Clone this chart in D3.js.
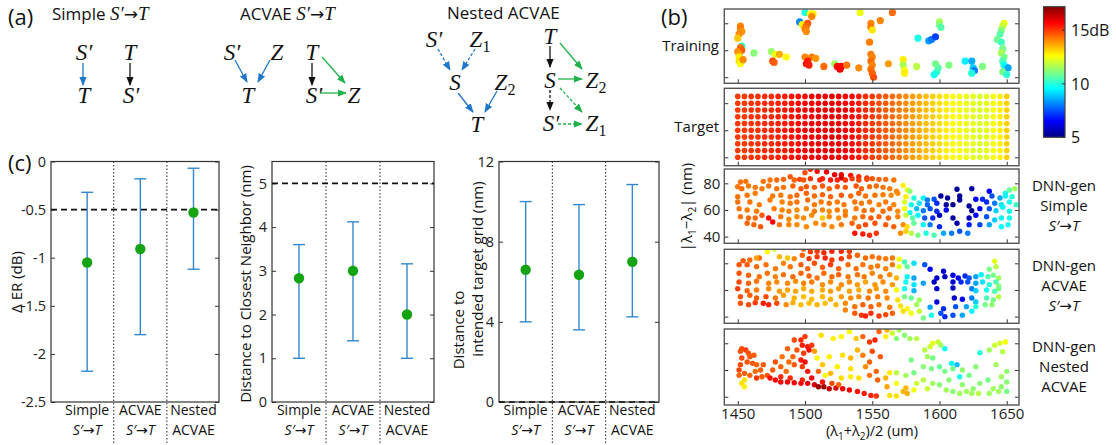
<!DOCTYPE html>
<html><head><meta charset="utf-8">
<script src="https://cdn.jsdelivr.net/npm/d3@7/dist/d3.min.js"></script>
<style>html,body{margin:0;padding:0;background:#fff;overflow:hidden}</style>
</head><body>
<svg id="chart" width="1116" height="445" xmlns="http://www.w3.org/2000/svg"></svg>
<script>
// ================= DATA =================
const methodTop = ["Simple", "ACVAE", "Nested"];
const methodBottom = ["S′→T", "S′→T", "ACVAE"];
const methodPos = [1, 2, 3];

const erMean = [-1.05, -0.91, -0.53];
const erLow  = [-2.18, -1.80, -1.12];
const erHigh = [-0.32, -0.18, -0.07];
const erThreshold = -0.5;
const erTicks = [0, -0.5, -1, -1.5, -2, -2.5];

const cnMean = [2.83, 3.0, 2.0];
const cnLow  = [1.0, 1.4, 1.0];
const cnHigh = [3.6, 4.12, 3.16];
const cnThreshold = 5;
const cnTicks = [0, 1, 2, 3, 4, 5];

const tgMean = [6.6, 6.35, 7.0];
const tgLow  = [4.0, 3.6, 4.25];
const tgHigh = [10.0, 9.85, 10.85];
const tgThreshold = 0;
const tgTicks = [0, 4, 8, 12];

const wlTicks = [1450, 1500, 1550, 1600, 1650];
const gapTicks = [40, 60, 80];
const cbTicks = [5, 10, 15];
const cbLabels = ["5", "10", "15dB"];

const targetWl = [1450,1455,1460,1465,1470,1475,1480,1485,1490,1495,1500,1505,1510,1515,1520,1525,1530,1535,1540,1545,1550,1555,1560,1565,1570,1575,1580,1585,1590,1595,1600,1605,1610,1615,1620,1625,1630,1635,1640,1645,1650];
const targetGap = [40,45,50,55,60,65,70,75,80,85];
const targetDB = [15.0,15.0,15.1,15.1,15.2,15.2,15.3,15.4,15.5,15.6,15.7,15.8,15.9,15.9,16.0,15.9,15.8,15.6,15.4,15.2,15.0,14.8,14.6,14.4,14.2,14.0,13.8,13.6,13.4,13.2,13.0,12.8,12.6,12.5,12.4,12.3,12.2,12.3,12.5,12.8,13.2];

// [wavelength centre, |l1-l2|, dB]
const trainingPts = [
[1452,78,14.1],[1452,76,14.2],[1453,74,13.9],[1451,72,14],[1450,69,13.3],
[1453,63,10.2],[1452,62,14.3],[1453,60,14.6],[1450,59,14],[1451,57,13.8],
[1451,55,12.8],[1451,52,13],[1452,50,12.6],[1454,53,14],
[1462,58,11.2],
[1475,59,11.4],[1478,57,12.4],[1481,57,13.6],[1476,52,14.9],[1477,51,14.6],[1486,55,12.7],
[1500,88,10],[1504,87,12.6],[1506,87,12.8],[1505,85,14.1],[1496,81,8.2],[1498,79,12.8],[1502,80,14.7],[1501,78,14.5],[1500,76,14.2],[1501,74,14],
[1500,55,14.1],[1505,55,14.2],[1508,54,13.9],[1502,52,15.3],[1501,50,15.5],[1503,49,15.3],
[1514,48,14.4],[1522,50,11.5],[1524,48,15.6],[1526,46,15.9],[1527,48,15.7],[1531,49,14.3],
[1541,88,12.4],[1540,47,14],
[1549,80,14.1],[1549,77,14.2],[1550,75,12.9],[1548,66,14.2],
[1549,57,14.2],[1550,55,14.1],[1549,52,14.4],[1550,49,14.1],[1549,46,14.3],[1550,43,14.5],[1551,40,14.7],
[1556,82,14.1],[1565,88,14.4],
[1562,50,13.8],[1573,53,12.8],[1573,49,11.6],[1574,45,12.6],[1574,43,12.8],
[1583,48,11.8],[1584,69,9.9],
[1592,67,8.4],[1594,68,8],[1597,70,7.3],
[1600,81,11.6],[1600,79,11.2],[1601,77,10.6],
[1597,50,11],[1599,47,10.7],[1598,44,10.3],[1596,42,9.8],[1607,49,11.1],
[1619,52,9.4],[1624,52,8.6],[1625,47,9],[1626,45,8],[1624,43,10],[1632,48,11.1],
[1648,80,12.4],[1647,78,12],[1646,75,11.2],[1645,72,10.6],[1643,68,10.9],[1646,66,10.4],
[1647,61,11],[1646,58,11.6],[1648,55,11],[1647,52,10.5],[1648,49,9.6],[1651,47,8.5],[1647,44,11],[1650,42,10.1]
];

const simplePts = [
[1504,90.5,15.2],[1509,89,15.6],[1500,88,14.8],[1516,88.5,15.9],[1522,86.5,16],[1527,86.5,15.9],[1527,84,16.1],[1534,86,15.5],[1540,85,15.2],[1546,84,15],
[1452,81,14.3],[1456,81.5,14.3],[1469,81.5,14.3],[1474,82.5,14.3],[1479,82.5,14.4],[1484,83,14.5],[1489,85,14.6],[1492,82.5,14.5],[1496,83,14.8],[1499,82.5,14.7],[1504,83.5,15],[1511,82.5,15.2],[1513,83.5,15.3],[1519,82.5,15.4],[1524,82.5,15.3],[1530,82.5,15.1],[1535,83.5,15],[1540,82.5,14.9],[1546,83,14.8],[1550,83.5,14.7],[1555,83,14.5],[1560,83,14.4],[1566,82.5,14.3],[1573,78.5,12.8],
[1450,77.5,14.3],[1453,76,14.4],[1458,78,14.2],[1463,77,14.2],[1468,76,14.2],[1473,78,14.3],[1479,76,14.3],[1484,77,14.3],[1491,78,14.5],[1497,76,14.6],[1501,77.5,14.6],[1507,77,14.5],[1513,78,14.6],[1518,76,14.5],[1524,77.5,14.7],[1530,77,14.6],[1538,78,14.7],[1542,76,14.5],[1548,77.5,14.4],[1553,78,14.4],[1558,77,14.3],[1563,76,14.2],[1568,74,14],[1576,75,12.3],[1578,74,11.3],
[1613,75.5,5.3],[1624,76,5.5],[1637,74,6.5],[1649,72.5,9.8],[1652,75,10.8],[1656,76,11.5],
[1450,70,14.3],[1457,71,14.3],[1463,72.5,14.2],[1476,70.5,14.2],[1482,71,14.2],[1489,70,14.3],[1494,71,14.4],[1501,72.5,14.5],[1507,70.5,14.4],[1513,71.5,14.5],[1519,70,14.5],[1527,71,14.6],[1534,70.5,14.4],[1540,72.5,14.5],[1545,70.5,14.3],[1552,71,14.3],[1558,71.5,14.2],[1564,71,14],[1569,72.5,14],[1575,70,12.8],[1581,69,10],[1588,69,9.5],[1591,67.5,8],[1596,68,7.5],[1601,70.5,5.3],[1606,69,5.4],[1615,70.5,5.2],[1615,67.5,5.5],[1627,68,6.5],[1632,68,7],[1639,70.5,7.5],[1645,69,8.5],[1649,70.5,9.5],[1654,70,10],
[1450,66,14.3],[1459,66,14.3],[1466,64,14.2],[1474,67.5,14.2],[1483,66,14.1],[1489,65,14.2],[1494,66,14.3],[1502,67.5,14.3],[1507,64,14.2],[1512,66,14.2],[1518,65,14.3],[1524,66,14.2],[1529,64,14.2],[1537,66,14.3],[1542,65,14.2],[1548,66,14.2],[1555,64,14.1],[1560,66,14.2],[1566,64,14.1],[1574,66,12.2],[1579,64,9.7],[1585,65,9.3],[1591,64,7.8],[1598,65,7],[1605,64,5.3],[1610,64,5.2],[1622,63,5.3],[1635,66,7],[1641,65,8],[1646,64,9.2],[1652,66,9.8],[1657,64,10.2],
[1451,61,14.3],[1457,60,14.2],[1464,59,14.2],[1477,61,14.2],[1483,60,14.1],[1488,59,14.1],[1494,60,14],[1501,61,14.1],[1507,59,14.2],[1513,60,14.1],[1518,59,14],[1524,60,14.2],[1530,59,14.1],[1538,61,14.2],[1544,59.5,14.3],[1550,60,14.3],[1558,59,14.4],[1563,61,14.4],[1569,59,14],[1574,61,12.5],[1578,58,9.6],[1583,61,8.8],[1588,59.5,8],[1593,61,7.5],[1598,59,7],[1605,60,6.5],[1624,59.5,5.3],[1630,61,6.5],[1637,61,7.5],[1642,59.5,9],[1647,62,9.5],[1652,59,9.8],
[1452,55,14.3],[1458,54,14.4],[1463,54,14.4],[1468,56,14.6],[1473,54,15.6],[1482,55,14.2],[1488,53,14],[1494,55,14],[1499,54,14],[1505,56,14],[1513,54,13.3],[1518,55,14],[1525,54,14],[1530,56,14.2],[1537,54,14.2],[1543,55,14.4],[1549,54,14.6],[1555,55,14.5],[1562,54,14.5],[1569,55,14.1],[1575,56,12],[1580,54,10.6],[1584,56,9.5],[1589,54,7.6],[1595,54,7],[1600,56,5.8],[1610,54,5.4],[1622,54,5.6],[1627,56,6.5],[1635,55,7.5],[1641,52.5,9],[1646,54,9.5],[1652,54,9.8],
[1457,50,14.5],[1462,49,14.5],[1467,47.5,14.6],[1476,51,15.8],[1481,49,14.3],[1488,49,14.1],[1494,49,14],[1501,47.5,14],[1508,50,14],[1514,49,14.1],[1520,47.5,14],[1527,49,14.2],[1535,50,14.5],[1540,47.5,14.6],[1545,49,14.8],[1552,50,14.7],[1560,49,14.6],[1566,47.5,14.5],[1573,49,14],[1576,47.5,13],[1581,50,10.8],[1588,49,9.5],[1593,49,8],[1600,47.5,7],[1613,50,5.5],[1622,49,6.8],[1630,49,7.3],[1637,49,8.5],[1646,47.5,9.6],[1651,49,9.8],
[1537,42.5,15.5],[1543,42,15.4],[1548,41,15.2],[1553,42.5,15],[1571,42.5,14],[1575,44,13.2],[1579,42.5,11.8],[1584,41,11],[1590,42.5,10],[1596,41,10.5],[1603,42.5,8.5],[1609,42.5,8],[1615,44,7.5],[1621,42.5,8]
];

const acvaePts = [
[1472,88.75,12.7],[1477,90.75,12],[1499,90.75,14.5],[1504,88.75,15],[1509,89,15],[1514,88,15.2],[1520,89,15.3],[1527,89,15.2],[1533,89,15],
[1454,82,14.6],[1459,82.5,14.4],[1466,84,14.5],[1464,84,13.8],[1481,85,13.5],[1487,84,13.3],[1492,83.5,14],[1498,86,14.5],[1503,83.5,15],[1509,85,15],[1515,84,15.2],[1520,82.5,15],[1527,83.5,15],[1533,85,14.8],[1539,86,14.5],[1545,84,14.4],[1550,85,14.3],[1555,84,14.3],[1560,83.5,14.2],[1565,84,14.2],[1570,83,12.5],[1574,81,10.5],
[1451,79,14.7],[1457,79,14.6],[1464,77.5,14.4],[1471,79,14.3],[1478,76,14.2],[1484,80,14.1],[1489,77.5,14.3],[1497,79,14.6],[1502,76,14.5],[1507,80,14.7],[1513,77,14.6],[1519,79,15],[1525,76,14.5],[1532,79,14.4],[1538,76,14.3],[1543,79,14.3],[1549,77,14.2],[1554,78,14.2],[1560,76,14.1],[1565,79,14.2],[1570,77.5,12.3],[1576,77.5,10.8],[1581,80,9.2],[1589,79,7.5],[1593,75.5,6.5],[1603,74,6],
[1641,81.5,12.3],[1642,77.5,11.8],[1637,75.5,11],
[1451,72.5,14.7],[1458,71,14.5],[1466,70,14.3],[1472,72.5,14.3],[1478,70,14.1],[1484,71.5,14.3],[1491,70,14.4],[1497,72.5,14.5],[1503,70.5,14.5],[1509,69,14.3],[1514,72.5,14.4],[1520,70,14.4],[1525,71.5,14.5],[1532,70,14.2],[1539,71.5,14.3],[1544,70,14.2],[1550,72.5,14.1],[1556,70,14.1],[1563,71.5,14],[1568,69,13.5],[1576,70,9.5],[1581,69,8.5],[1598,69,6],[1604,70,5.8],[1610,71,6.3],[1614,69,6.5],[1619,70.5,7],[1622,69,7.5],[1627,70,8.5],[1631,71.5,9.5],[1636,70,10.5],[1640,71,11],[1644,69,11.5],
[1451,66,14.8],[1458,65,14.5],[1464,66.5,14.3],[1473,65,14.1],[1479,66,14],[1487,65,14],[1493,66.5,14],[1499,65,14.1],[1505,66,14.2],[1513,64,14],[1519,66,14],[1527,64,14],[1533,66,14],[1539,64,13.8],[1545,66,13.7],[1552,64,13.9],[1558,66,14],[1565,64,13.8],[1575,66,9.7],[1581,64,9.3],[1588,65,8.5],[1596,66,5.8],[1610,66,6],[1616,66,7],[1621,66,7.5],[1627,65,8.5],[1632,66,9.3],[1637,64,10],[1642,66,10.5],[1644,63,11.2],
[1450,61,14.9],[1457,59.5,14.5],[1464,60,14.2],[1473,61,14],[1481,59,13.8],[1487,60,13.7],[1493,59,13.7],[1499,61,13.6],[1505,59,13.6],[1513,60,13.6],[1519,59,13.8],[1525,61,13.8],[1533,59,13.7],[1540,60,13.6],[1548,59,14],[1553,61,13.8],[1560,59,14],[1568,60,12.5],[1574,61,9.7],[1581,59.5,8.7],[1598,61,6],[1610,61.5,5.8],[1624,61,8],[1627,59.5,9],[1635,60,9.8],[1641,59,10.5],[1644,61,11],
[1452,55,14.7],[1459,56,14.5],[1464,54,14.6],[1471,55,14.8],[1478,54,14.2],[1484,56,13.8],[1492,54,13.5],[1499,55,13.4],[1505,53,13.4],[1513,55,13.5],[1519,53,13.6],[1527,55,13.8],[1534,54,14],[1540,55,14],[1547,54,14.3],[1554,55,14.2],[1561,54,14],[1569,52.5,13],[1574,55,11],[1579,54,10.8],[1585,52.5,11.5],[1598,51,6.2],[1611,54,5.8],[1617,53,6.5],[1624,54,8],[1627,51,9],[1635,54,10.5],[1640,52.5,11],[1644,55,11.8],
[1452,50,14.7],[1458,49,14.8],[1463,50.5,15],[1469,50,15.4],[1473,49,15.3],[1479,50,14.8],[1486,49,14],[1491,50.5,13.6],[1497,49,13.4],[1503,50,13.4],[1509,49,13.5],[1515,50,13.4],[1523,49,13.5],[1530,50,14],[1537,47.5,14.3],[1543,49,14.5],[1549,47.5,14.5],[1555,49,14.3],[1563,47,14.2],[1571,48,13],[1576,46,12.5],[1583,49,11.5],[1593,47,8.5],[1603,46,7],[1612,47.5,7.5],[1620,47.5,8.5],[1627,47.5,10],[1634,49,11],[1639,49,11.3],
[1530,45,14.1],[1537,42.5,14.6],[1542,41,15],[1545,40.5,15.3],[1549,42.5,15.1],[1555,40.5,15],[1560,41.5,14.8],[1565,42.5,14.5],[1573,44,13],[1579,42.5,12.5],[1585,44,12],[1588,39,11],[1594,41,9.8],[1601,42.5,7.5],[1604,40,7],[1610,41,7.5],[1617,41,8.5],[1624,44,9.5]
];

const nestedPts = [
[1453,76,14.8],[1456,75,14.9],[1452,74,14.7],[1458,72.5,14.7],[1462,71,14.6],[1459,70,14.6],[1453,69,14.8],[1457,66,14.7],[1452,64,14.8],[1461,65,14.6],[1464,64,14.5],[1451,60,14.9],[1455,57.5,14.6],[1451,56,14.5],[1455,52.5,13],[1453,50,13],[1455,47.5,12.8],[1459,56,14.5],[1463,59,14.4],[1467,60,14.5],[1469,64,14.6],[1472,56,14.7],[1468,55,14.6],[1464,54,15],
[1474,54,15.5],[1478,52.5,15.6],[1482,51,15.7],[1487,51,15.8],[1492,50.5,15.8],[1497,50,15.8],[1502,50,16],[1507,49,16.2],[1510,47.5,16.8],[1514,47.5,16.8],[1518,46,16.5],[1523,46.5,16.2],[1528,46,15.8],[1533,45,15.7],[1539,44,15.5],[1544,42.5,15.4],[1549,41,15.3],[1553,40.5,15],[1482,55,15.2],[1489,54,15.2],[1498,52.5,15.3],[1505,54,15.6],[1513,51,15.5],[1520,50,14.8],[1525,49,14.5],
[1492,82.5,14.8],[1497,82.5,15.2],[1500,85,15],[1498,78.5,15.3],[1502,77.5,15.4],[1503,75,15.5],[1499,72.5,15],[1494,75,14.7],[1491,70,14.5],[1497,67.5,15.4],[1500,66,15.7],[1492,64,14.6],[1498,62.5,15],[1502,59,15.5],[1505,78.5,15],[1509,69,12.7],[1507,74,13.8],[1478,66,14.7],[1482,62.5,14.5],[1486,59,14.4],[1476,60,14.6],[1483,70,14.3],[1488,66,14.4],[1487,76,14.5],
[1512,86,13],[1521,83.5,12.8],[1527,85,12.7],[1533,88.75,12.5],[1538,83.5,13.3],[1543,85,14.5],[1548,81,15],[1552,82.5,15.3],[1555,88.75,14.5],[1561,90,13.5],[1560,85,12.8],[1565,87.5,12],[1570,90,11.5],[1568,83.5,11.2],[1574,86,11.2],[1578,83.5,11.5],[1583,83.5,11.8],[1518,70,12.8],[1524,62.5,12.8],[1528,71,13],[1534,69,13.5],[1534,61,13],[1539,75,13.5],[1543,71,14.2],[1548,66,14.5],[1550,74,14.8],[1556,70,14.6],[1553,59,14.5],[1548,56,14.3],[1545,62.5,14],[1540,54,13],[1554,52.5,14.5],[1560,54,13.5],[1561,47.5,13.7],[1563,41,13],[1568,40.5,13],[1573,44,13.5],[1575,46.5,13.5],[1576,42.5,13.6],[1568,50,12.5],[1563,58,12.8],[1519,57.5,13.5],[1527,54,13],[1534,55,12.8],[1513,64,13.3],[1515,56,12.5],[1510,59,14.5],
[1579,67.5,11],[1568,58,11.8],[1575,56,11.5],[1581,58,11],[1589,75,11.8],[1593,77.5,12],[1595,80,12.3],[1599,81,12],[1601,78.5,11.5],[1604,76,9.7],[1591,70,11.5],[1595,69,11],[1588,62.5,11.2],[1594,61,11],[1600,62.5,10.8],[1604,59,11],[1609,65,9.5],[1613,64,8.8],[1615,55,9.8],[1610,61,11],[1617,60,11.3],[1622,56,11],[1630,73,10],[1627,62.5,11.2],[1637,75,11.5],[1641,78.5,12],[1645,80,12.2],[1649,81,12.5],[1647,73.75,11.8],[1642,64,11.5],[1650,59,11.3],[1646,55,11.5],[1650,51,11.2],[1646,47.5,11.3],[1650,44,11],[1644,44,11.5],[1640,46,11.5],[1636,52.5,11],[1630,50,11.2],[1625,46,11.3],[1620,44,11.5],[1615,42.5,11.5],[1610,44,11.2],[1605,45,11.5],[1600,49,11.2],[1595,50,11.5],[1591,46,12],[1588,52.5,11.8],[1583,50,12],[1581,45,12.5],[1624,42.5,11.5],[1629,42.5,11.8],[1637,42.5,11.5],[1617,49,11.3],[1607,52.5,11.2]
];

// ================= HELPERS =================
const svg = d3.select("#chart");
const FONT = "'Open Sans', 'DejaVu Sans', sans-serif";
const SERIF = "'Liberation Serif', 'DejaVu Serif', serif";
const AX = "#333";
svg.attr("font-family", FONT);
const plainNum = d => String(d);

const cl = v => Math.max(0, Math.min(1, v));
function jet(t) {
  t = cl(t);
  const r = cl(1.5 - Math.abs(4 * t - 3)), g = cl(1.5 - Math.abs(4 * t - 2)), b = cl(1.5 - Math.abs(4 * t - 1));
  return d3.rgb(r * 255, g * 255, b * 255).formatHex();
}
const cbMin = 5, cbMax = 17.2;
const colorOf = d3.scaleSequential(jet).domain([cbMin, cbMax]);

const defs = svg.append("defs");
[["blue", "#1f77c8"], ["green", "#1fb24a"], ["black", "#111"]].forEach(([n, c]) => {
  defs.append("marker").attr("id", "ah-" + n).attr("viewBox", "0 0 10 10").attr("refX", 9).attr("refY", 5)
    .attr("markerWidth", 7).attr("markerHeight", 7).attr("orient", "auto-start-reverse")
    .append("path").attr("d", "M0,1 L10,5 L0,9 Z").attr("fill", c);
});
const arrowColors = { blue: "#1f77c8", green: "#1fb24a", black: "#111" };

// ================= PANEL (a) =================
function label(x, y, txt, size) {
  return svg.append("text").attr("x", x).attr("y", y).attr("font-size", size).attr("fill", "#111").text(txt);
}
label(8, 25, "(a)", 22);
label(661, 25, "(b)", 22);
label(8, 171, "(c)", 22);

function titleWithMath(x, y, plain) {
  const t = svg.append("text").attr("x", x).attr("y", y).attr("font-size", 17).attr("fill", "#111");
  t.append("tspan").text(plain);
  t.append("tspan").attr("font-family", SERIF).attr("font-style", "italic").attr("font-size", 19).text("S′");
  t.append("tspan").text("→");
  t.append("tspan").attr("font-family", SERIF).attr("font-style", "italic").attr("font-size", 19).text("T");
}
titleWithMath(52, 20, "Simple ");
titleWithMath(240, 20, "ACVAE ");
label(447, 19, "Nested ACVAE", 17);

function sym(x, y, main, sub) {
  const t = svg.append("text").attr("x", x).attr("y", y).attr("font-family", SERIF).attr("font-style", "italic")
    .attr("font-size", 23).attr("text-anchor", "middle").attr("fill", "#111");
  t.append("tspan").text(main);
  if (sub) t.append("tspan").attr("font-style", "normal").attr("font-size", 16).attr("dy", 5).text(sub);
}
function arrow(x1, y1, x2, y2, col, dashed) {
  svg.append("line").attr("x1", x1).attr("y1", y1).attr("x2", x2).attr("y2", y2)
    .attr("stroke", arrowColors[col]).attr("stroke-width", 1.3)
    .attr("stroke-dasharray", dashed ? "3,2" : null)
    .attr("marker-end", "url(#ah-" + col + ")");
}
sym(84, 60, "S′"); sym(130, 60, "T"); sym(84, 103, "T"); sym(131, 103, "S′");
arrow(83, 63, 83, 85, "blue"); arrow(130, 63, 130, 85, "black");
sym(232, 60, "S′"); sym(277, 60, "Z"); sym(248, 103, "T");
sym(312, 60, "T"); sym(314, 103, "S′"); sym(354, 103, "Z");
arrow(235, 60, 247, 82, "blue"); arrow(270, 60, 258, 82, "blue");
arrow(312, 63, 312, 85, "black"); arrow(322, 57, 345, 83, "green"); arrow(320, 93, 346, 93, "green");
sym(434, 47, "S′"); sym(480, 47, "Z", "1"); sym(455, 90, "S"); sym(505, 90, "Z", "2"); sym(477, 132, "T");
sym(550, 44, "T"); sym(550, 88, "S"); sym(551, 131, "S′"); sym(596, 88, "Z", "2"); sym(596, 131, "Z", "1");
arrow(438, 49, 450, 70, "blue", true); arrow(475, 49, 462, 70, "blue", true);
arrow(458, 93, 473, 112, "blue"); arrow(497, 91, 485, 112, "blue");
arrow(550, 46, 550, 67, "black"); arrow(550, 90, 550, 110, "black", true);
arrow(560, 43, 582, 69, "green"); arrow(558, 79, 582, 79, "green");
arrow(560, 88, 582, 112, "green", true); arrow(558, 124, 582, 124, "green", true);

// ================= PANEL (c) =================
function errPanel(cfg) {
  const x = d3.scaleLinear().domain(cfg.xdom).range([cfg.left, cfg.right]);
  const y = d3.scaleLinear().domain(cfg.ydom).range([cfg.bottom, cfg.top]);
  const g = svg.append("g");
  [1.5, 2.5].forEach(s => g.append("line").attr("x1", x(s)).attr("x2", x(s)).attr("y1", cfg.top).attr("y2", 443)
    .attr("stroke", "#222").attr("stroke-width", 1).attr("stroke-dasharray", "1.5,2"));
  const ax = g.append("g").attr("transform", `translate(${cfg.left},0)`)
    .call(d3.axisLeft(y).tickValues(cfg.ticks).tickSize(-4).tickPadding(5).tickFormat(plainNum));
  ax.select(".domain").remove();
  ax.selectAll("line").attr("stroke", AX);
  ax.selectAll("text").attr("font-size", 14.5).attr("font-family", FONT).attr("fill", "#222");
  const ax2 = g.append("g").attr("transform", `translate(${cfg.right},0)`)
    .call(d3.axisRight(y).tickValues(cfg.ticks).tickSize(-4).tickFormat(""));
  ax2.select(".domain").remove();
  ax2.selectAll("line").attr("stroke", AX);
  g.append("rect").attr("x", cfg.left).attr("y", cfg.top).attr("width", cfg.right - cfg.left).attr("height", cfg.bottom - cfg.top)
    .attr("fill", "none").attr("stroke", AX).attr("stroke-width", 1.2);
  g.append("line").attr("x1", cfg.left).attr("x2", cfg.right).attr("y1", y(cfg.thr)).attr("y2", y(cfg.thr))
    .attr("stroke", "#111").attr("stroke-width", 1.6).attr("stroke-dasharray", "6,4");
  methodPos.forEach((p, i) => {
    const cx = x(p);
    g.append("line").attr("x1", cx).attr("x2", cx).attr("y1", y(cfg.low[i])).attr("y2", y(cfg.high[i])).attr("stroke", "#3388d0").attr("stroke-width", 1.4);
    [cfg.low[i], cfg.high[i]].forEach(v => g.append("line").attr("x1", cx - 6).attr("x2", cx + 6).attr("y1", y(v)).attr("y2", y(v)).attr("stroke", "#3388d0").attr("stroke-width", 1.4));
    g.append("circle").attr("cx", cx).attr("cy", y(cfg.mean[i])).attr("r", 5.2).attr("fill", "#13a313");
    g.append("text").attr("x", cx).attr("y", 415).attr("text-anchor", "middle").attr("font-size", 14).attr("fill", "#111").text(methodTop[i]);
    const t = g.append("text").attr("x", cx).attr("y", 435).attr("text-anchor", "middle").attr("font-size", 14).attr("fill", "#111");
    if (methodBottom[i].includes("→")) {
      t.append("tspan").attr("font-style", "italic").text("S′");
      t.append("tspan").text("→");
      t.append("tspan").attr("font-style", "italic").text("T");
    } else t.text(methodBottom[i]);
  });
  return g;
}
errPanel({ left: 51, right: 219, top: 161.5, bottom: 402, xdom: [0.32, 3.48], ydom: [-2.5, 0], ticks: erTicks, mean: erMean, low: erLow, high: erHigh, thr: erThreshold });
errPanel({ left: 272, right: 434, top: 161.5, bottom: 402, xdom: [0.5, 3.5], ydom: [0, 5.5], ticks: cnTicks, mean: cnMean, low: cnLow, high: cnHigh, thr: cnThreshold });
errPanel({ left: 499, right: 659, top: 161.5, bottom: 402, xdom: [0.5, 3.5], ydom: [0, 12], ticks: tgTicks, mean: tgMean, low: tgLow, high: tgHigh, thr: tgThreshold });

function rotLabel(x, y, txt, anchor) {
  svg.append("text").attr("transform", `translate(${x},${y}) rotate(-90)`).attr("text-anchor", anchor || "middle")
    .attr("font-size", 15).attr("fill", "#111").text(txt);
}
rotLabel(22, 282, "Δ ER (dB)");
rotLabel(251, 284, "Distance to Closest Neighbor (nm)");
rotLabel(464, 330, "Distance to");
rotLabel(483, 269, "intended target grid (nm)");

// ================= PANEL (b) =================
const bx = d3.scaleLinear().domain([1440, 1659.1]).range([724.3, 1019]);
const panels = [
  { key: "train", pts: trainingPts, top: 9, bottom: 83.3, ymin: 35.5, ymax: 90.6, r: 3.6, label: ["Training"] },
  { key: "target", pts: null, top: 88.3, bottom: 165.7, ymin: 33.8, ymax: 91, r: 2.8, label: ["Target"] },
  { key: "simple", pts: simplePts, top: 169, bottom: 243.3, ymin: 35, ymax: 90.75, r: 2.7, right: ["DNN-gen", "Simple", "S′→T"], yl: true },
  { key: "acvae", pts: acvaePts, top: 249.3, bottom: 323.3, ymin: 35, ymax: 90.5, r: 2.7, right: ["DNN-gen", "ACVAE", "S′→T"] },
  { key: "nested", pts: nestedPts, top: 329, bottom: 405, ymin: 33.8, ymax: 90.7, r: 2.7, right: ["DNN-gen", "Nested", "ACVAE"], xl: true }
];
panels.forEach(p => {
  const y = d3.scaleLinear().domain([p.ymin, p.ymax]).range([p.bottom, p.top]);
  const g = svg.append("g");
  const clipId = "clip-" + p.key;
  defs.append("clipPath").attr("id", clipId).append("rect").attr("x", 724.3).attr("y", p.top).attr("width", 1019 - 724.3).attr("height", p.bottom - p.top);
  const dots = g.append("g").attr("clip-path", `url(#${clipId})`);
  let data = p.pts;
  if (!data) {
    data = [];
    targetWl.forEach((w, i) => targetGap.forEach(gp => data.push([w, gp, targetDB[i]])));
  }
  dots.selectAll("circle").data(data).join("circle")
    .attr("cx", d => bx(d[0])).attr("cy", d => y(d[1])).attr("r", p.r).attr("fill", d => colorOf(d[2]));
  const la = g.append("g").attr("transform", "translate(724.3,0)")
    .call(d3.axisLeft(y).tickValues(gapTicks).tickSize(-4).tickPadding(4).tickFormat(p.yl ? plainNum : ""));
  la.select(".domain").remove(); la.selectAll("line").attr("stroke", AX);
  la.selectAll("text").attr("font-size", 15).attr("font-family", FONT).attr("fill", "#222");
  const ra = g.append("g").attr("transform", "translate(1019,0)")
    .call(d3.axisRight(y).tickValues(gapTicks).tickSize(-4).tickFormat(""));
  ra.select(".domain").remove(); ra.selectAll("line").attr("stroke", AX);
  const ba = g.append("g").attr("transform", `translate(0,${p.bottom})`)
    .call(d3.axisBottom(bx).tickValues(wlTicks).tickSize(-4).tickPadding(3).tickFormat(p.xl ? plainNum : ""));
  ba.select(".domain").remove(); ba.selectAll("line").attr("stroke", AX);
  ba.selectAll("text").attr("font-size", 15).attr("font-family", FONT).attr("fill", "#222");
  g.append("rect").attr("x", 724.3).attr("y", p.top).attr("width", 1019 - 724.3).attr("height", p.bottom - p.top)
    .attr("fill", "none").attr("stroke", "#555").attr("stroke-width", 1.4);
  if (p.label) {
    svg.append("text").attr("x", 719).attr("y", (p.top + p.bottom) / 2 + 5).attr("text-anchor", "end")
      .attr("font-size", 15).attr("fill", "#111").text(p.label[0]);
  }
  if (p.right) {
    const cy = (p.top + p.bottom) / 2;
    p.right.forEach((s, k) => {
      const t = svg.append("text").attr("x", 1064).attr("y", cy + (k - 1) * 20 + 5).attr("text-anchor", "middle")
        .attr("font-size", 15).attr("fill", "#111");
      if (s.includes("→")) {
        t.append("tspan").attr("font-style", "italic").text("S′");
        t.append("tspan").text("→");
        t.append("tspan").attr("font-style", "italic").text("T");
      } else t.text(s);
    });
  }
});

{
  const t = svg.append("text").attr("x", 872).attr("y", 436).attr("text-anchor", "middle").attr("font-size", 14.5).attr("fill", "#111");
  t.append("tspan").text("(λ");
  t.append("tspan").attr("font-size", 10).attr("dy", 4).text("1");
  t.append("tspan").attr("dy", -4).text("+λ");
  t.append("tspan").attr("font-size", 10).attr("dy", 4).text("2");
  t.append("tspan").attr("dy", -4).text(")/2 (um)");
  const r = svg.append("text").attr("transform", "translate(692,207) rotate(-90)").attr("text-anchor", "middle").attr("font-size", 15).attr("fill", "#111");
  r.append("tspan").text("|λ");
  r.append("tspan").attr("font-size", 10).attr("dy", 4).text("1");
  r.append("tspan").attr("dy", -4).text("−λ");
  r.append("tspan").attr("font-size", 10).attr("dy", 4).text("2");
  r.append("tspan").attr("dy", -4).text("| (nm)");
}

{
  const cbX = 1043.5, cbW = 21.5, cbTop = 6.7, cbBot = 137.3;
  const cy = d3.scaleLinear().domain([cbMin, cbMax]).range([cbBot, cbTop]);
  const grad = defs.append("linearGradient").attr("id", "jetgrad").attr("x1", 0).attr("y1", 1).attr("x2", 0).attr("y2", 0);
  d3.range(0, 1.0001, 0.025).forEach(t => grad.append("stop").attr("offset", t).attr("stop-color", jet(t)));
  svg.append("rect").attr("x", cbX).attr("y", cbTop).attr("width", cbW).attr("height", cbBot - cbTop).attr("fill", "url(#jetgrad)")
    .attr("stroke", "#444").attr("stroke-width", 1.2);
  cbTicks.forEach((v, i) => {
    svg.append("line").attr("x1", cbX + cbW - 3).attr("x2", cbX + cbW).attr("y1", cy(v)).attr("y2", cy(v)).attr("stroke", "#333");
    svg.append("text").attr("x", 1071).attr("y", cy(v) + 6).attr("font-size", 16).attr("fill", "#111").text(cbLabels[i]);
  });
}
</script>
</body></html>
